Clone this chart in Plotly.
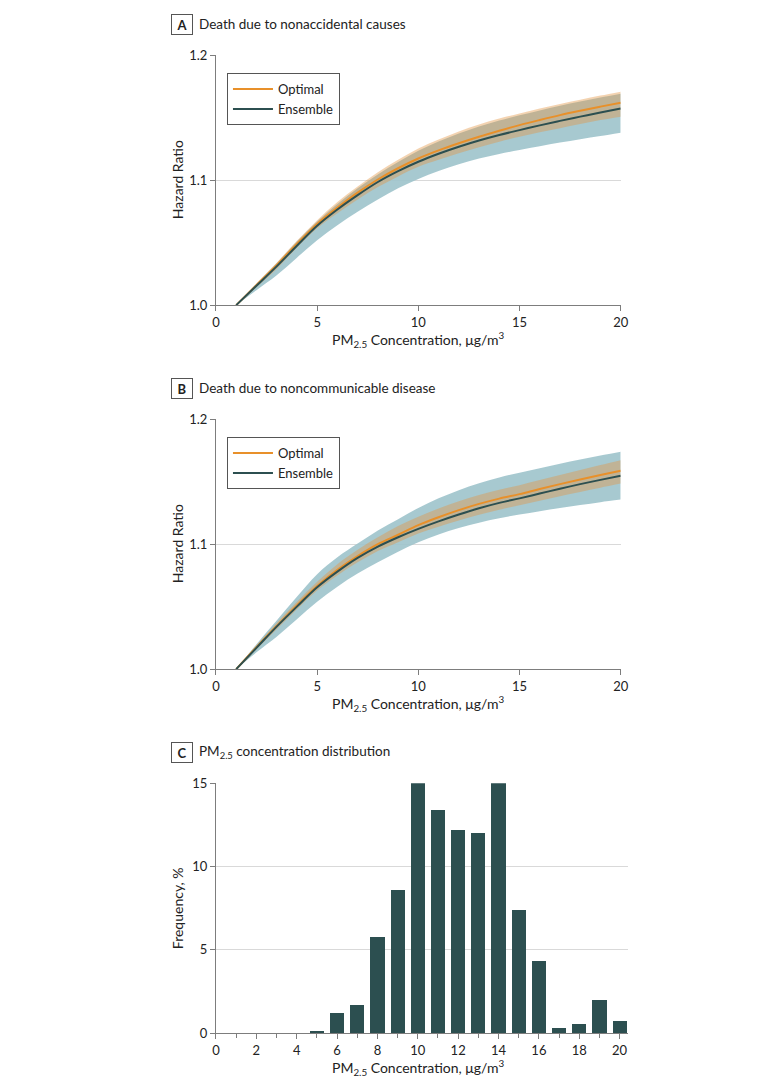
import plotly.graph_objects as go

# ---------------- data ----------------
conc = [1, 2, 3, 4, 5, 6, 7, 8, 9, 10, 11, 12, 13, 14, 15, 16, 17, 18, 19, 20]

# Panel A: death due to nonaccidental causes
opt_A = [1.000, 1.016, 1.032, 1.049, 1.065, 1.078, 1.090, 1.1005, 1.1095, 1.1173,
         1.1238, 1.1295, 1.1347, 1.1395, 1.1440, 1.1481, 1.1520, 1.1555, 1.1588, 1.1619]
opt_A_hi = [1.000, 1.0175, 1.034, 1.0515, 1.068, 1.0825, 1.095, 1.1063, 1.1163, 1.1253,
            1.1325, 1.1389, 1.1445, 1.1492, 1.1533, 1.1572, 1.1609, 1.1643, 1.1676, 1.1707]
opt_A_lo = [1.000, 1.0145, 1.029, 1.046, 1.0615, 1.0735, 1.0845, 1.0945, 1.103, 1.1107,
            1.1163, 1.1215, 1.1263, 1.1307, 1.1347, 1.1382, 1.1415, 1.1448, 1.1480, 1.1507]
ens_A = [1.000, 1.0155, 1.031, 1.0475, 1.0635, 1.0765, 1.0880, 1.0985, 1.1072, 1.1147,
         1.1211, 1.1267, 1.1317, 1.1361, 1.1400, 1.1438, 1.1474, 1.1508, 1.1541, 1.1573]
ens_A_hi = [1.000, 1.017, 1.0335, 1.051, 1.067, 1.081, 1.0935, 1.1045, 1.1145, 1.1235,
            1.1308, 1.1372, 1.1428, 1.1476, 1.1518, 1.1557, 1.1594, 1.1628, 1.1660, 1.1690]
ens_A_lo = [1.000, 1.012, 1.024, 1.038, 1.052, 1.064, 1.0747, 1.0845, 1.0935, 1.1010,
            1.1074, 1.1128, 1.1172, 1.1209, 1.1241, 1.1271, 1.1300, 1.1327, 1.1353, 1.1379]

# Panel B: death due to noncommunicable disease
opt_B = [1.000, 1.0175, 1.0345, 1.051, 1.0665, 1.0795, 1.0905, 1.100, 1.1075, 1.1152,
         1.1215, 1.1272, 1.1322, 1.1364, 1.1400, 1.1441, 1.1480, 1.1517, 1.1553, 1.1587]
opt_B_hi = [1.000, 1.019, 1.037, 1.054, 1.070, 1.084, 1.0955, 1.1055, 1.1145, 1.1219,
            1.1285, 1.1343, 1.1393, 1.1435, 1.1472, 1.1513, 1.1553, 1.1593, 1.1633, 1.1672]
opt_B_lo = [1.000, 1.016, 1.032, 1.048, 1.063, 1.075, 1.0855, 1.0945, 1.1015, 1.1085,
            1.1140, 1.1190, 1.1235, 1.1275, 1.1312, 1.1348, 1.1384, 1.1418, 1.1452, 1.1485]
ens_B = [1.000, 1.017, 1.034, 1.050, 1.0655, 1.078, 1.089, 1.098, 1.1055, 1.1122,
         1.1182, 1.1237, 1.1287, 1.1330, 1.1366, 1.1405, 1.1443, 1.1480, 1.1514, 1.1547]
ens_B_hi = [1.000, 1.020, 1.039, 1.058, 1.076, 1.0895, 1.1005, 1.1110, 1.1200, 1.1290,
            1.1367, 1.1432, 1.1487, 1.1533, 1.1572, 1.1608, 1.1643, 1.1677, 1.1709, 1.1739]
ens_B_lo = [1.000, 1.0135, 1.026, 1.040, 1.054, 1.066, 1.0765, 1.0855, 1.0940, 1.1015,
            1.1078, 1.1130, 1.1172, 1.1207, 1.1237, 1.1264, 1.1289, 1.1313, 1.1336, 1.1357]

# Panel C: PM2.5 concentration distribution
bins = [0, 1, 2, 3, 4, 5, 6, 7, 8, 9, 10, 11, 12, 13, 14, 15, 16, 17, 18, 19, 20]
freq = [0, 0, 0, 0, 0, 0.1, 1.18, 1.7, 5.74, 8.57, 15.0, 13.38, 12.2, 12.0, 15.0,
        7.37, 4.34, 0.3, 0.52, 2.01, 0.7]

hr_ticks = [1.0, 1.1, 1.2]
hr_ticktext = ["1.0", "1.1", "1.2"]
conc_ticks = [0, 5, 10, 15, 20]
freq_ticks = [0, 5, 10, 15]
bin_ticks = [0, 2, 4, 6, 8, 10, 12, 14, 16, 18, 20]

# ---------------- style ----------------
MARGIN = 8                      # default body margin of the page
W, H = 780 - 2 * MARGIN, 1086 - 2 * MARGIN
SCALE, OFF_X, OFF_Y = 0.985, 3.0, 8.0   # observed screen mapping of page pixels
FONT = "Lato, Roboto, Liberation Sans, sans-serif"
ORANGE = "#E8902A"
TEAL = "#2C4F50"
BLUE_FILL = "rgba(160,196,204,0.92)"
ORANGE_FILL = "rgba(226,150,70,0.42)"
AXIS = "#7d7d7d"
GRID = "#d9d9d9"
TXT = "#222222"


def px(x):
    return ((x - OFF_X) / SCALE - MARGIN) / W


def py(y):
    return 1 - ((y - OFF_Y) / SCALE - MARGIN) / H


fig = go.Figure()


def add_band(lo, hi, color, xa, ya):
    fig.add_trace(go.Scatter(x=conc, y=lo, mode="lines", line=dict(width=0, shape="spline"),
                             showlegend=False, hoverinfo="skip", xaxis=xa, yaxis=ya))
    fig.add_trace(go.Scatter(x=conc, y=hi, mode="lines", line=dict(width=0, shape="spline"),
                             fill="tonexty", fillcolor=color, showlegend=False,
                             hoverinfo="skip", xaxis=xa, yaxis=ya))


def add_panel(opt, opt_lo, opt_hi, ens, ens_lo, ens_hi, xa, ya, leg):
    add_band(ens_lo, ens_hi, BLUE_FILL, xa, ya)
    add_band(opt_lo, opt_hi, ORANGE_FILL, xa, ya)
    fig.add_trace(go.Scatter(x=conc, y=opt, mode="lines", name="Optimal",
                             line=dict(color=ORANGE, width=2, shape="spline"),
                             legend=leg, xaxis=xa, yaxis=ya))
    fig.add_trace(go.Scatter(x=conc, y=ens, mode="lines", name="Ensemble",
                             line=dict(color=TEAL, width=2, shape="spline"),
                             legend=leg, xaxis=xa, yaxis=ya))


add_panel(opt_A, opt_A_lo, opt_A_hi, ens_A, ens_A_lo, ens_A_hi, "x", "y", "legend")
add_panel(opt_B, opt_B_lo, opt_B_hi, ens_B, ens_B_lo, ens_B_hi, "x2", "y2", "legend2")

fig.add_trace(go.Bar(x=bins, y=freq, width=0.7, marker=dict(color=TEAL, line=dict(width=0)),
                     showlegend=False, xaxis="x3", yaxis="y3"))

tickfont = dict(family=FONT, size=13, color=TXT)

common_x = dict(showline=True, linecolor=AXIS, linewidth=1, ticks="outside", ticklen=5,
                tickcolor=AXIS, showgrid=False, zeroline=False, tickfont=tickfont)
common_y = dict(showline=True, linecolor=AXIS, linewidth=1, ticks="outside", ticklen=5,
                tickcolor=AXIS, showgrid=True, gridcolor=GRID, gridwidth=1,
                zeroline=False, tickfont=tickfont)

legend_style = dict(bgcolor="white", bordercolor="#555555", borderwidth=1,
                    font=dict(family=FONT, size=13, color=TXT), itemwidth=40,
                    tracegroupgap=0, traceorder="normal", xanchor="left", yanchor="top")

dom_x = [px(215), px(620)]
fig.update_layout(
    width=W, height=H,
    margin=dict(l=0, r=0, t=0, b=0),
    paper_bgcolor="white", plot_bgcolor="white",
    font=dict(family=FONT, size=13, color=TXT),
    xaxis=dict(domain=dom_x, range=[0, 20], tickvals=conc_ticks, anchor="y", **common_x),
    yaxis=dict(domain=[py(305), py(55)], range=[1.0, 1.2], tickvals=hr_ticks,
               ticktext=hr_ticktext, anchor="x", **common_y),
    xaxis2=dict(domain=dom_x, range=[0, 20], tickvals=conc_ticks, anchor="y2", **common_x),
    yaxis2=dict(domain=[py(669), py(419)], range=[1.0, 1.2], tickvals=hr_ticks,
                ticktext=hr_ticktext, anchor="x2", **common_y),
    xaxis3=dict(domain=[px(215), px(627)], range=[0, 20.4], tickvals=bin_ticks, anchor="y3",
                minor=dict(ticks="outside", dtick=1, tick0=0, ticklen=4, tickcolor=AXIS),
                **common_x),
    yaxis3=dict(domain=[py(1033), py(783)], range=[0, 15], tickvals=freq_ticks, anchor="x3",
                **common_y),
    legend=dict(x=px(226), y=py(73), **legend_style),
    legend2=dict(x=px(226), y=py(437), **legend_style),
    bargap=0,
)

annotations = []


def panel_title(letter, text, yc):
    annotations.append(dict(x=px(181), y=py(yc), xref="paper", yref="paper",
                            text="<b>%s</b>" % letter, showarrow=False,
                            font=dict(family=FONT, size=13, color=TXT),
                            bordercolor="#555555", borderwidth=1, width=18, height=17,
                            borderpad=1, xanchor="center", yanchor="middle"))
    annotations.append(dict(x=px(196), y=py(yc), xref="paper", yref="paper", text=text,
                            showarrow=False, font=dict(family=FONT, size=13.5, color=TXT),
                            xanchor="left", yanchor="middle"))


panel_title("A", "Death due to nonaccidental causes", 24)
panel_title("B", "Death due to noncommunicable disease", 388)
panel_title("C", "PM<sub>2.5</sub> concentration distribution", 752)

xtitle = "PM<sub>2.5</sub> Concentration, μg/m<sup>3</sup>"
for yc in (339, 703, 1067):
    annotations.append(dict(x=px(417), y=py(yc), xref="paper", yref="paper", text=xtitle,
                            showarrow=False, font=dict(family=FONT, size=14, color=TXT),
                            xanchor="center", yanchor="middle"))
for yc, t in ((180, "Hazard Ratio"), (544, "Hazard Ratio"), (908, "Frequency, %")):
    annotations.append(dict(x=px(176), y=py(yc), xref="paper", yref="paper", text=t,
                            showarrow=False, textangle=-90,
                            font=dict(family=FONT, size=14, color=TXT),
                            xanchor="center", yanchor="middle"))

fig.update_layout(annotations=annotations)

fig.write_html("out.html", config={"displayModeBar": False})
